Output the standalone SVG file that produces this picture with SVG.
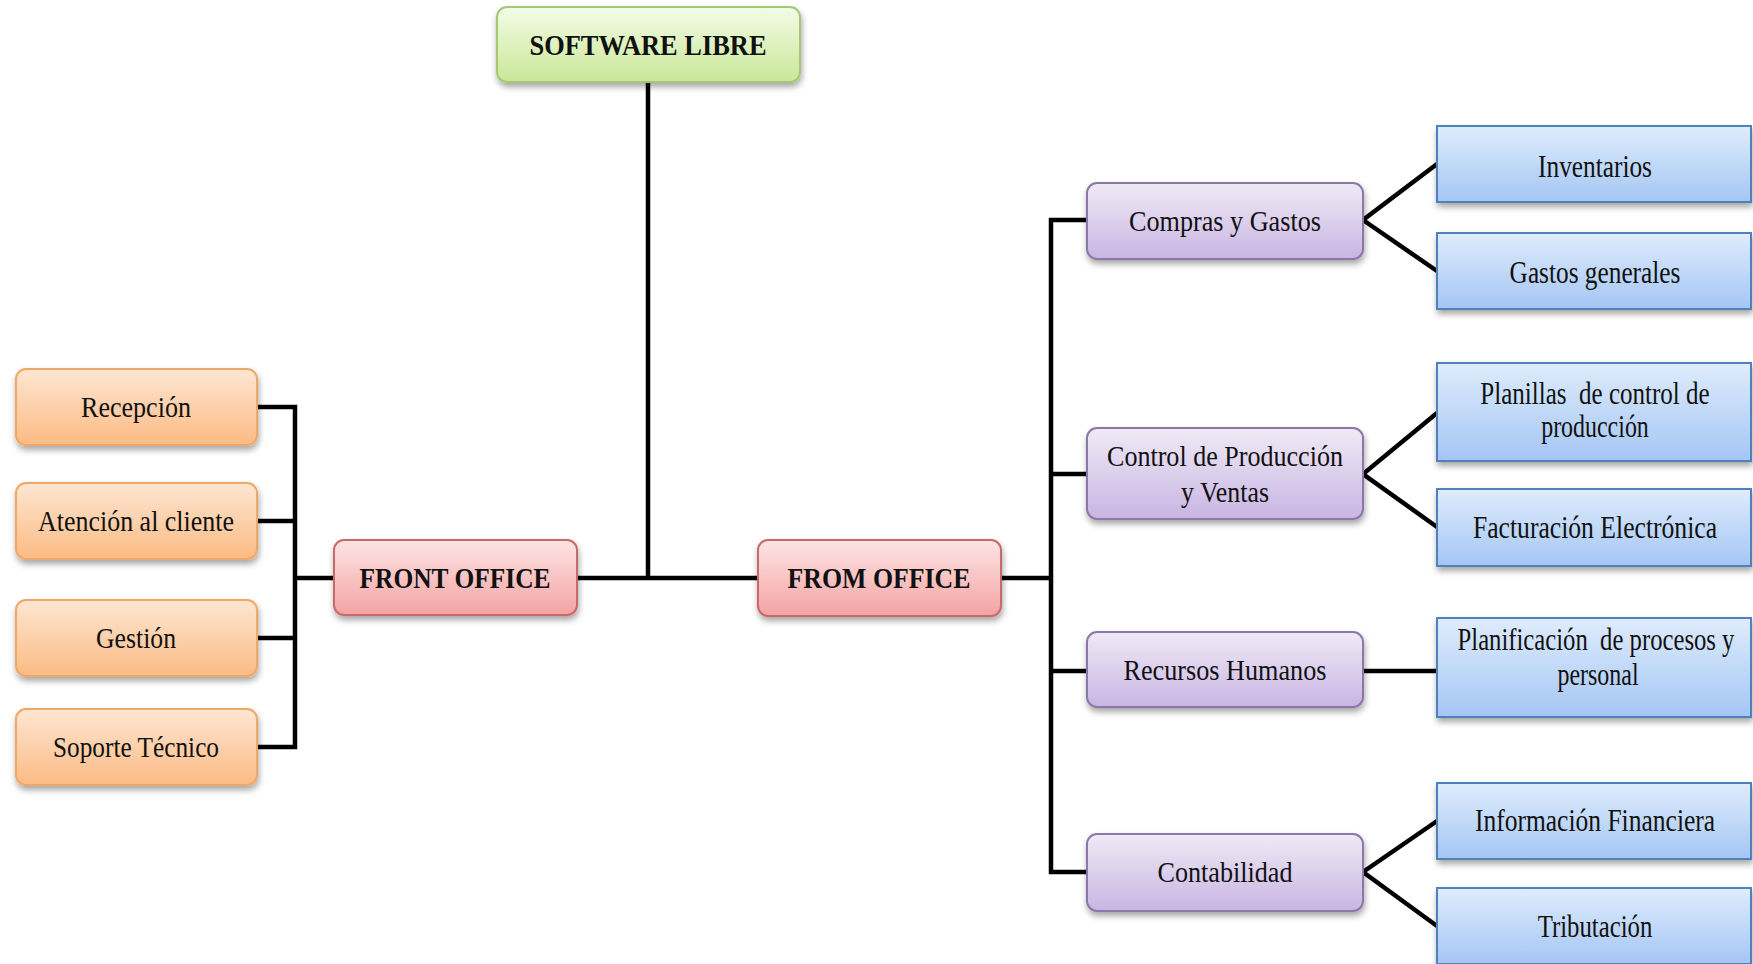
<svg xmlns="http://www.w3.org/2000/svg" width="1753" height="964" viewBox="0 0 1753 964">
<defs>
<linearGradient id="gGreen" x1="0" y1="0" x2="0" y2="1"><stop offset="0" stop-color="#f4fbe6"/><stop offset="1" stop-color="#c8e898"/></linearGradient>
<linearGradient id="gOrange" x1="0" y1="0" x2="0" y2="1"><stop offset="0" stop-color="#fee6d2"/><stop offset="1" stop-color="#fbbb84"/></linearGradient>
<linearGradient id="gPink" x1="0" y1="0" x2="0" y2="1"><stop offset="0" stop-color="#fde4e4"/><stop offset="1" stop-color="#f4a3a3"/></linearGradient>
<linearGradient id="gPurple" x1="0" y1="0" x2="0" y2="1"><stop offset="0" stop-color="#efeaf6"/><stop offset="1" stop-color="#c9b5e2"/></linearGradient>
<linearGradient id="gBlue" x1="0" y1="0" x2="0" y2="1"><stop offset="0" stop-color="#dfecfc"/><stop offset="1" stop-color="#a4c6f4"/></linearGradient>
<filter id="sh" x="-10%" y="-20%" width="120%" height="150%"><feDropShadow dx="1" dy="4" stdDeviation="3" flood-color="#000" flood-opacity="0.35"/></filter>
</defs>
<style>
.t{font-family:"Liberation Serif","Times New Roman",serif;font-size:29px;fill:#111;text-anchor:middle}
.b{font-weight:bold;font-size:30px}
.r{font-size:32px}
.p{white-space:pre}
.green{fill:url(#gGreen);stroke:#a6c872;stroke-width:2;filter:url(#sh)}
.orange{fill:url(#gOrange);stroke:#f0a868;stroke-width:2;filter:url(#sh)}
.pink{fill:url(#gPink);stroke:#c86a6a;stroke-width:2;filter:url(#sh)}
.purple{fill:url(#gPurple);stroke:#8a78a8;stroke-width:2;filter:url(#sh)}
.blue{fill:url(#gBlue);stroke:#4f81bd;stroke-width:2;filter:url(#sh)}
.c{fill:none;stroke:#000;stroke-width:4.5}
</style>
<rect width="1753" height="964" fill="#fff"/>
<g id="connectors">
<path class="c" d="M648 82 V578"/>
<path class="c" d="M257 407 H295 V747 H257 M257 521 H295 M257 638 H295 M295 578 H334"/>
<path class="c" d="M577 578 H758"/>
<path class="c" d="M1001 578 H1051"/>
<path class="c" d="M1087 220 H1051 V872 H1087 M1051 474 H1087 M1051 671 H1087"/>
<path class="c" d="M1437 164 L1363 220 L1437 271"/>
<path class="c" d="M1437 413 L1363 474 L1437 527"/>
<path class="c" d="M1363 671 H1437"/>
<path class="c" d="M1437 821 L1363 872 L1437 926"/>
</g>
<g id="software-libre"><rect class="green" x="497" y="7" width="303" height="75" rx="10"/><text class="t b" x="648" y="55" textLength="237" lengthAdjust="spacingAndGlyphs">SOFTWARE LIBRE</text></g>
<g id="recepcion"><rect class="orange" x="16" y="369" width="241" height="76" rx="10"/><text class="t" x="136" y="417" textLength="110" lengthAdjust="spacingAndGlyphs">Recepción</text></g>
<g id="atencion"><rect class="orange" x="16" y="483" width="241" height="76" rx="10"/><text class="t" x="136" y="531" textLength="196" lengthAdjust="spacingAndGlyphs">Atención al cliente</text></g>
<g id="gestion"><rect class="orange" x="16" y="600" width="241" height="76" rx="10"/><text class="t" x="136" y="648" textLength="80" lengthAdjust="spacingAndGlyphs">Gestión</text></g>
<g id="soporte"><rect class="orange" x="16" y="709" width="241" height="76" rx="10"/><text class="t" x="136" y="757" textLength="166" lengthAdjust="spacingAndGlyphs">Soporte Técnico</text></g>
<g id="front-office"><rect class="pink" x="334" y="540" width="243" height="75" rx="10"/><text class="t b" x="455" y="588" textLength="191" lengthAdjust="spacingAndGlyphs">FRONT OFFICE</text></g>
<g id="from-office"><rect class="pink" x="758" y="540" width="243" height="76" rx="10"/><text class="t b" x="879" y="588" textLength="183" lengthAdjust="spacingAndGlyphs">FROM OFFICE</text></g>
<g id="compras"><rect class="purple" x="1087" y="183" width="276" height="76" rx="10"/><text class="t" x="1225" y="231" textLength="192" lengthAdjust="spacingAndGlyphs">Compras y Gastos</text></g>
<g id="control"><rect class="purple" x="1087" y="428" width="276" height="91" rx="10"/><text class="t" x="1225" y="466" textLength="236" lengthAdjust="spacingAndGlyphs">Control de Producción</text><text class="t" x="1225" y="502" textLength="88" lengthAdjust="spacingAndGlyphs">y Ventas</text></g>
<g id="recursos"><rect class="purple" x="1087" y="632" width="276" height="75" rx="10"/><text class="t" x="1225" y="680" textLength="203" lengthAdjust="spacingAndGlyphs">Recursos Humanos</text></g>
<g id="contabilidad"><rect class="purple" x="1087" y="834" width="276" height="77" rx="10"/><text class="t" x="1225" y="882" textLength="135" lengthAdjust="spacingAndGlyphs">Contabilidad</text></g>
<g id="inventarios"><rect class="blue" x="1437" y="126" width="314" height="76"/><text class="t r" transform="translate(1595,177) scale(0.78,1)" textLength="146" lengthAdjust="spacingAndGlyphs">Inventarios</text></g>
<g id="gastos-generales"><rect class="blue" x="1437" y="233" width="314" height="76"/><text class="t r" transform="translate(1595,283) scale(0.78,1)" textLength="219" lengthAdjust="spacingAndGlyphs">Gastos generales</text></g>
<g id="planillas"><rect class="blue" x="1437" y="363" width="314" height="98"/><text class="t r p" transform="translate(1595,404) scale(0.78,1)" textLength="294" lengthAdjust="spacingAndGlyphs">Planillas  de control de</text><text class="t r" transform="translate(1595,437) scale(0.78,1)" textLength="138" lengthAdjust="spacingAndGlyphs">producción</text></g>
<g id="facturacion"><rect class="blue" x="1437" y="489" width="314" height="77"/><text class="t r" transform="translate(1595,538) scale(0.78,1)" textLength="313" lengthAdjust="spacingAndGlyphs">Facturación Electrónica</text></g>
<g id="planificacion"><rect class="blue" x="1437" y="618" width="314" height="99"/><text class="t r p" transform="translate(1596,650) scale(0.78,1)" textLength="355" lengthAdjust="spacingAndGlyphs">Planificación  de procesos y</text><text class="t r" transform="translate(1598,685) scale(0.78,1)" textLength="104" lengthAdjust="spacingAndGlyphs">personal</text></g>
<g id="informacion"><rect class="blue" x="1437" y="783" width="314" height="76"/><text class="t r" transform="translate(1595,831) scale(0.78,1)" textLength="308" lengthAdjust="spacingAndGlyphs">Información Financiera</text></g>
<g id="tributacion"><rect class="blue" x="1437" y="888" width="314" height="76"/><text class="t r" transform="translate(1595,937) scale(0.78,1)" textLength="147" lengthAdjust="spacingAndGlyphs">Tributación</text></g>
</svg>
